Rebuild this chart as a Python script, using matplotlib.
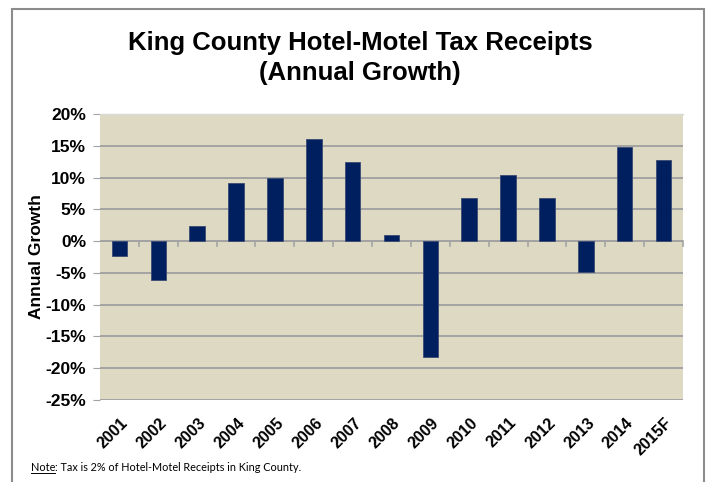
import matplotlib
matplotlib.use('Agg')
import matplotlib.pyplot as plt
import matplotlib.transforms as mtransforms
import numpy as np
from matplotlib.patches import Rectangle
from matplotlib.lines import Line2D

# annual growth of hotel-motel tax receipts (%)
years = ['2001', '2002', '2003', '2004', '2005', '2006', '2007', '2008',
         '2009', '2010', '2011', '2012', '2013', '2014', '2015F']
growth = [-2.3, -6.1, 2.3, 9.2, 10.0, 16.1, 12.4, 1.0,
          -18.3, 6.8, 10.4, 6.8, -4.8, 14.8, 12.7]
yticks = [-25, -20, -15, -10, -5, 0, 5, 10, 15, 20]

title = 'King County Hotel-Motel Tax Receipts\n(Annual Growth)'
note_lead = 'Note'
note_rest = ': Tax is 2% of Hotel-Motel Receipts in King County.'

plt.rcParams['font.family'] = ['Liberation Sans', 'DejaVu Sans']

W, H = 709, 482
fig = plt.figure(figsize=(W / 100, H / 100), dpi=100)
fig.patch.set_facecolor('white')

# outer frame of the slide
fig.patches.append(Rectangle((12 / W, -0.05), (704 - 12) / W, (H - 9) / H + 0.05,
                             transform=fig.transFigure, fill=False,
                             edgecolor='#8c8c8c', linewidth=1.5))

ax = fig.add_axes([100 / W, 1 - 400 / H, (683 - 100) / W, (400 - 114) / H])
ax.set_facecolor('#ddd9c3')

x = np.arange(len(years))
ax.bar(x, growth, width=0.4, color='#001f5f', edgecolor='#3a4a72', linewidth=0.6, zorder=3)

ax.set_ylim(-25, 20)
ax.set_xlim(-0.5, len(years) - 0.5)
ax.set_yticks(yticks)
ax.set_yticklabels(['%d%%' % v for v in yticks], fontsize=12.5, fontweight='bold')
ax.yaxis.grid(True, color='#a3a3a3', linewidth=1.4, zorder=1)
ax.set_axisbelow(True)
ax.tick_params(axis='y', length=5, color='#a3a3a3', pad=5)

# category labels under the plot, tick marks on the zero line
ax.set_xticks(x)
ax.set_xticklabels([])
ax.tick_params(axis='x', length=0)
lab_tf = mtransforms.blended_transform_factory(ax.transData, ax.transAxes) + \
    mtransforms.ScaledTranslation(1 / 100, -15 / 100, fig.dpi_scale_trans)
for xi, yr in zip(x, years):
    ax.text(xi, 0, yr, transform=lab_tf, rotation=45, fontsize=11.5, fontweight='bold',
            ha='right', va='top', rotation_mode='anchor')
for b in np.arange(len(years)) + 0.5:
    ax.plot([b, b], [0, -0.8], color='#a3a3a3', linewidth=1.2, zorder=2,
            clip_on=False)
ax.axhline(0, color='#a3a3a3', linewidth=1.4, zorder=2)

for s in ['left', 'right', 'bottom']:
    ax.spines[s].set_visible(False)
ax.spines['top'].set_color('#d9d9d9')
ax.spines['top'].set_linewidth(1.0)

ax.set_ylabel('Annual Growth', fontsize=12.5, fontweight='bold')
ax.yaxis.set_label_coords((44 - 100) / 583, 0.5)

fig.text(360 / W, 1 - 58 / H, title, ha='center', va='center', fontsize=18.5,
         fontweight='bold', linespacing=1.3)

# footnote with underlined lead word
note_font = ['Lato', 'DejaVu Sans']
t1 = fig.text(31 / W, 1 - 471 / H, note_lead, fontsize=7.8, ha='left', va='baseline',
              family=note_font)
fig.canvas.draw()
bb = t1.get_window_extent()
fig.add_artist(Line2D([bb.x0 / W, bb.x1 / W], [(bb.y0 + 0.5) / H, (bb.y0 + 0.5) / H],
                      color='black', linewidth=0.7, transform=fig.transFigure))
fig.text(bb.x1 / W, 1 - 471 / H, note_rest, fontsize=7.8, ha='left', va='baseline',
         family=note_font)

fig.savefig('out.png', dpi=100)
